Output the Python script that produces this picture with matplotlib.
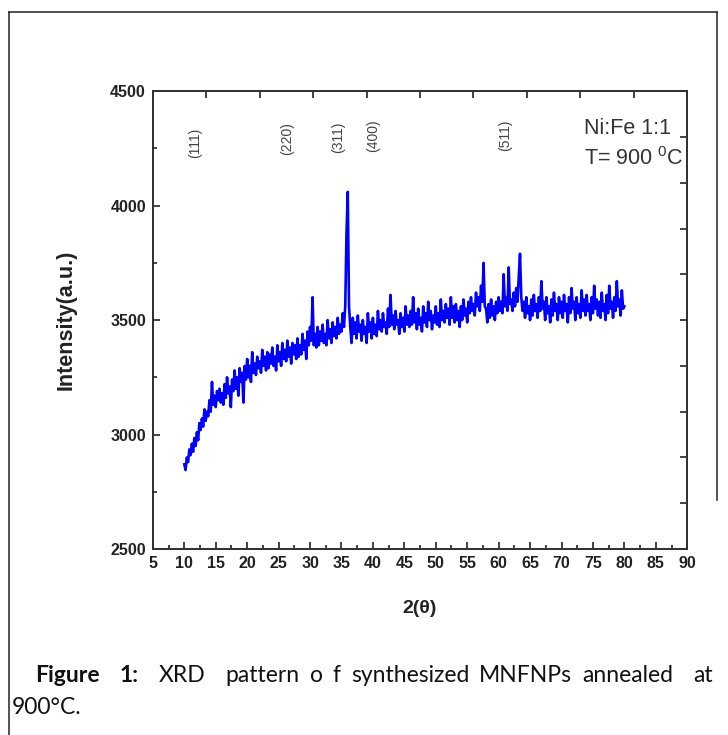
import matplotlib
matplotlib.use("Agg")
import matplotlib.pyplot as plt
from matplotlib.lines import Line2D
import numpy as np

# 2theta grid, 0.2 deg step from 10 to 80
two_theta = np.round(np.arange(10, 80.01, 0.2), 1)

intensity = [
    2870, 2845, 2900, 2880, 2935, 2910, 2960, 2925, 2985, 2950,
    3010, 2975, 3050, 3020, 3070, 3035, 3110, 3060, 3100, 3080,
    3150, 3100, 3230, 3130, 3170, 3120, 3190, 3150, 3200, 3140,
    3180, 3130, 3220, 3160, 3250, 3180, 3210, 3120, 3240, 3190,
    3280, 3200, 3250, 3170, 3290, 3230, 3270, 3140, 3300, 3240,
    3330, 3250, 3300, 3230, 3360, 3270, 3310, 3260, 3340, 3290,
    3320, 3270, 3370, 3300, 3340, 3280, 3360, 3290, 3350, 3310,
    3380, 3300, 3340, 3280, 3390, 3320, 3360, 3300, 3400, 3330,
    3370, 3320, 3410, 3340, 3380, 3310, 3400, 3350, 3390, 3330,
    3420, 3340, 3390, 3350, 3440, 3370, 3410, 3330, 3450, 3390,
    3470, 3410, 3600, 3390, 3440, 3380, 3470, 3390, 3450, 3410,
    3480, 3400, 3440, 3390, 3500, 3420, 3460, 3400, 3490, 3430,
    3470, 3420, 3510, 3440, 3480, 3450, 3530, 3470, 3560, 3880,
    4060, 3560, 3470, 3400, 3510, 3440, 3490, 3420, 3520, 3450,
    3480, 3410, 3500, 3440, 3470, 3400, 3530, 3450, 3490, 3420,
    3510, 3440, 3480, 3430, 3540, 3460, 3500, 3450, 3530, 3470,
    3490, 3440, 3550, 3470, 3610, 3480, 3520, 3460, 3540, 3480,
    3500, 3440, 3530, 3470, 3510, 3450, 3560, 3480, 3520, 3470,
    3540, 3480, 3600, 3490, 3530, 3460, 3550, 3480, 3510, 3450,
    3560, 3490, 3530, 3470, 3580, 3500, 3540, 3460, 3520, 3490,
    3560, 3480, 3530, 3470, 3590, 3500, 3540, 3490, 3570, 3510,
    3550, 3480, 3600, 3510, 3560, 3490, 3570, 3500, 3540, 3470,
    3560, 3500, 3590, 3520, 3550, 3490, 3580, 3530, 3600, 3540,
    3570, 3520, 3620, 3560, 3600, 3540, 3650, 3580, 3750, 3560,
    3550, 3490, 3570, 3510, 3590, 3520, 3560, 3500, 3580, 3530,
    3600, 3540, 3580, 3530, 3700, 3560, 3600, 3540, 3730, 3570,
    3590, 3540, 3620, 3560, 3640, 3580, 3690, 3790, 3600, 3540,
    3580, 3510, 3600, 3530, 3560, 3500, 3590, 3520, 3610, 3540,
    3570, 3510, 3600, 3540, 3670, 3550, 3580, 3500, 3600, 3530,
    3560, 3490, 3590, 3520, 3620, 3540, 3570, 3500, 3600, 3530,
    3580, 3510, 3610, 3540, 3570, 3490, 3600, 3530, 3640, 3550,
    3580, 3500, 3600, 3530, 3570, 3510, 3630, 3540, 3590, 3520,
    3610, 3540, 3570, 3500, 3600, 3530, 3650, 3550, 3590, 3520,
    3580, 3510, 3620, 3540, 3570, 3500, 3610, 3530, 3650, 3550,
    3580, 3510, 3600, 3540, 3670, 3560, 3590, 3520, 3630, 3550,
    3560,
]

hkl_labels = ["(111)", "(220)", "(311)", "(400)", "(511)"]
hkl_pos = [11.7, 26.4, 34.5, 40.1, 61.1]
hkl_y = [4272, 4292, 4300, 4305, 4305]

# caption words (justified line), bold flag, spaces after each word
cap_words = ["Figure", "1:", "XRD", "pattern", "o", "f", "synthesized", "MNFNPs", "annealed", "at"]
cap_bold = [True, True, False, False, False, False, False, False, False, False]
cap_spaces = [2, 2, 2, 1, 1, 1, 1, 1, 2]
cap_line2 = "900°C."

plt.rcParams["font.family"] = ["Liberation Sans", "DejaVu Sans"]

fig = plt.figure(figsize=(7.28, 7.35), dpi=100)
ax = fig.add_axes([0.210, 0.253, 0.734, 0.623])

ax.plot(two_theta, intensity, color="#0000ff", lw=1.9)

ax.set_xlim(5, 90)
ax.set_ylim(2500, 4500)
ax.set_xticks(np.arange(5, 91, 5))
ax.set_xticks(np.arange(7.5, 90, 5), minor=True)
ax.set_yticks(np.arange(2500, 4501, 500))
ax.set_yticks(np.arange(2750, 4500, 500), minor=True)
ax.tick_params(which="major", direction="in", length=5, width=1.2, colors="#222222",
               labelsize=11.5, pad=5)
ax.tick_params(which="minor", direction="in", length=3, width=1.2, colors="#222222")
for lab in ax.get_xticklabels() + ax.get_yticklabels():
    lab.set_fontweight("bold")
    lab.set_color("#222222")
for s in ax.spines.values():
    s.set_linewidth(1.3)
    s.set_color("#333333")

# top and right frames with their own tick spacing
top = ax.twiny()
top.set_xlim(5, 90)
top.set_xticks(np.arange(5, 90.1, 8.5))
top.tick_params(direction="in", length=5, width=1.2, colors="#222222", labeltop=False)
right = ax.twinx()
right.set_ylim(2500, 4500)
right.set_yticks(np.arange(2500, 4501, 200))
right.tick_params(direction="in", length=5, width=1.2, colors="#222222", labelright=False)
for a in (top, right):
    for s in a.spines.values():
        s.set_linewidth(1.3)
        s.set_color("#333333")

ax.set_xlabel("2(θ)", fontsize=14, fontweight="bold", color="#222222", labelpad=21)
ax.set_ylabel("Intensity(a.u.)", fontsize=15.5, fontweight="bold", color="#222222", labelpad=24)

for lab, xp, yp in zip(hkl_labels, hkl_pos, hkl_y):
    ax.text(xp, yp, lab, rotation=90, ha="center", va="center", fontsize=10, color="#444444")

ax.text(0.806, 0.918, "Ni:Fe 1:1", transform=ax.transAxes, fontsize=15.5, color="#333333",
        ha="left", va="center")
ax.text(0.806, 0.852, r"T= 900 $^{\mathregular{0}}$C", transform=ax.transAxes, fontsize=15.5,
        color="#333333", ha="left", va="center")

# outer frame of the figure panel
W, H = 728, 735
def fx(p):
    return p / W
def fy(p):
    return 1 - p / H
fig.add_artist(Line2D([fx(9), fx(717)], [fy(12), fy(12)], color="#222222", lw=1.1))
fig.add_artist(Line2D([fx(9), fx(9)], [fy(12), 0], color="#222222", lw=1.1))
fig.add_artist(Line2D([fx(717), fx(717)], [fy(12), fy(500)], color="#222222", lw=1.1))

# caption, first line justified between x=35 and x=713
cap_fs = 16.5
renderer = fig.canvas.get_renderer()
widths = []
for w, b in zip(cap_words, cap_bold):
    t = fig.text(0, 0, w, fontsize=cap_fs, family="Lato", fontweight="bold" if b else "normal")
    widths.append(t.get_window_extent(renderer).width)
    t.remove()
gap = (713 - 35 - sum(widths)) / sum(cap_spaces)
xp = 35
for i, (w, b) in enumerate(zip(cap_words, cap_bold)):
    fig.text(fx(xp), fy(675), w, fontsize=cap_fs, family="Lato",
             fontweight="bold" if b else "normal", va="center", ha="left", color="#111111")
    if i < len(cap_spaces):
        xp += widths[i] + gap * cap_spaces[i]
fig.text(fx(12), fy(707), cap_line2, fontsize=cap_fs, family="Lato", va="center", ha="left",
         color="#111111")

fig.savefig("out.png", dpi=100)
